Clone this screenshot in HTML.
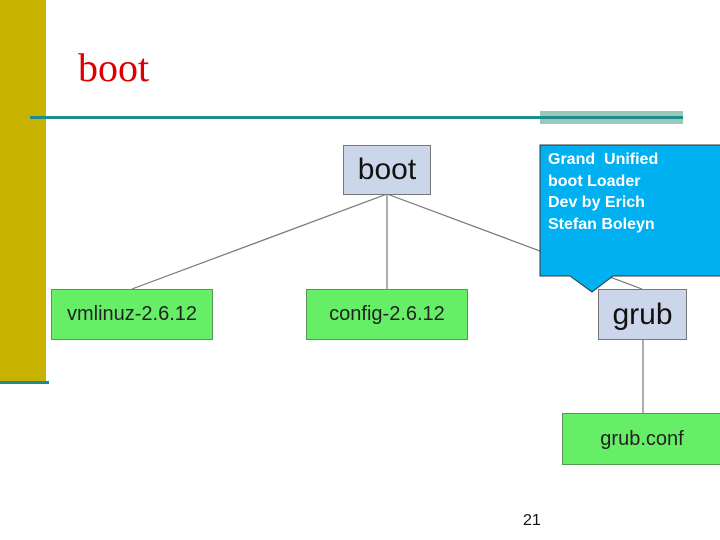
<!DOCTYPE html>
<html><head><style>
body{margin:0;width:720px;height:540px;position:relative;background:#fff;overflow:hidden;font-family:"Liberation Sans",sans-serif}
.a{position:absolute}
.n{position:absolute;box-sizing:border-box;display:flex;align-items:center;justify-content:center}
.g{background:#66ee66;border:1px solid #559955;font-size:20px;color:#222}
.b{background:#ccd6ea;border:1px solid #777;font-size:30px;color:#111}
</style></head><body>
<div class="a" style="left:0;top:0;width:46px;height:383px;background:#c8b400"></div>
<div class="a" style="left:0;top:381px;width:49px;height:3px;background:#1d8c8c"></div>
<div class="a" style="left:540px;top:111px;width:143px;height:13px;background:#9cc8bc"></div>
<div class="a" style="left:30px;top:116px;width:653px;height:3px;background:#1d8c8c"></div>
<div class="a" style="left:78px;top:44px;font-family:'Liberation Serif',serif;font-size:40px;color:#dd0000">boot</div>
<svg class="a" style="left:0;top:0" width="720" height="540">
<g stroke="#777" stroke-width="1.2">
<line x1="387" y1="194" x2="132" y2="289"/>
<line x1="387" y1="194" x2="387" y2="289"/>
<line x1="387" y1="194" x2="642" y2="289"/>
<line x1="643" y1="339" x2="643" y2="413"/>
</g>
</svg>
<div class="n b" style="left:343px;top:145px;width:88px;height:50px">boot</div>
<div class="n g" style="left:51px;top:289px;width:162px;height:51px">vmlinuz-2.6.12</div>
<div class="n g" style="left:306px;top:289px;width:162px;height:51px">config-2.6.12</div>
<div class="n b" style="left:598px;top:289px;width:89px;height:51px">grub</div>
<div class="n g" style="left:562px;top:413px;width:160px;height:52px">grub.conf</div>
<svg class="a" style="left:0;top:0" width="720" height="540">
<path d="M540,145 H721 V276 H613 L592,292 L570,276 H540 Z" fill="#00b0f0" stroke="#333" stroke-width="1"/>
</svg>
<div class="a" style="left:548px;top:149px;color:#fff;font-weight:bold;font-size:16px;line-height:21.5px">Grand&nbsp; Unified<br>boot Loader<br>Dev by Erich<br>Stefan Boleyn</div>
<div class="a" style="left:523px;top:512px;font-size:16px;color:#111">21</div>
</body></html>
